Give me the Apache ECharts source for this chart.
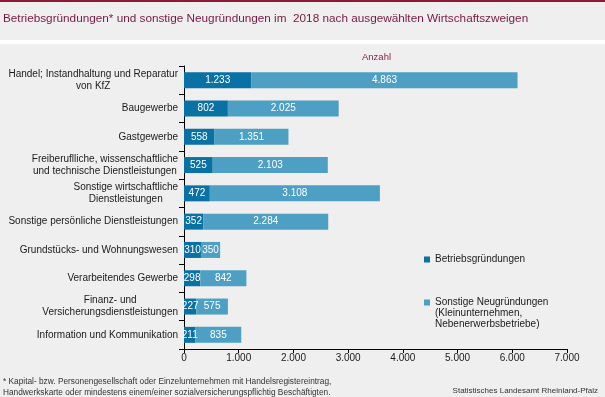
<!DOCTYPE html>
<html><head><meta charset="utf-8">
<script src="https://cdn.jsdelivr.net/npm/echarts@6/dist/echarts.min.js"></script>
<style>html,body{margin:0;padding:0;background:#eeefee}#c{width:605px;height:397px}</style>
</head><body><div id="c"></div>
<script>
const categories = [
  'Handel; Instandhaltung und Reparatur\nvon KfZ',
  'Baugewerbe',
  'Gastgewerbe',
  'Freiberuflliche, wissenschaftliche\nund technische Dienstleistungen',
  'Sonstige wirtschaftliche\nDienstleistungen',
  'Sonstige persönliche Dienstleistungen',
  'Grundstücks- und Wohnungswesen',
  'Verarbeitendes Gewerbe',
  'Finanz- und\nVersicherungsdienstleistungen',
  'Information und Kommunikation'
];
const betriebsgruendungen = [1233, 802, 558, 525, 472, 352, 310, 298, 227, 211];
const sonstigeNeugruendungen = [4863, 2025, 1351, 2103, 3108, 2284, 350, 842, 575, 835];
const xTicks = [0, 1000, 2000, 3000, 4000, 5000, 6000, 7000];
const seriesNames = ['Betriebsgründungen', 'Sonstige Neugründungen (Kleinunternehmen, Nebenerwerbsbetriebe)'];
const legendLabels = ['Betriebsgründungen', 'Sonstige Neugründungen\n(Kleinunternehmen,\nNebenerwerbsbetriebe)'];

const FONT = '"Liberation Sans", Arial, sans-serif';
const fmt = v => String(v).replace(/\B(?=(\d{3})+(?!\d))/g, '.');

const chart = echarts.init(document.getElementById('c'), null, {renderer: 'canvas'});
chart.setOption({
  backgroundColor: '#eeefee',
  animation: false,
  textStyle: {fontFamily: FONT},
  graphic: [
    {type: 'rect', left: 0, top: 0, shape: {width: 605, height: 2}, style: {fill: '#8a1a35'}, silent: true},
    {type: 'rect', left: 0, top: 40, shape: {width: 605, height: 4}, style: {fill: '#ffffff'}, silent: true}
  ],
  title: [
    {text: 'Betriebsgründungen* und sonstige Neugründungen im  2018 nach ausgewählten Wirtschaftszweigen',
     left: 3, top: 13, padding: 0,
     textStyle: {color: '#7b1742', fontSize: 11.75, fontWeight: 'normal', fontFamily: FONT}},
    {text: 'Anzahl', left: 362, top: 52, padding: 0,
     textStyle: {color: '#8b2244', fontSize: 9.5, fontWeight: 'normal', fontFamily: FONT}},
    {text: '* Kapital- bzw. Personengesellschaft oder Einzelunternehmen mit Handelsregistereintrag,\nHandwerkskarte oder mindestens einem/einer sozialversicherungspflichtig Beschäftigten.',
     left: 3, top: 376, padding: 0,
     textStyle: {color: '#333333', fontSize: 8.3, lineHeight: 11, fontWeight: 'normal', fontFamily: FONT}},
    {text: 'Statistisches Landesamt Rheinland-Pfalz', right: 7, top: 387, padding: 0,
     textStyle: {color: '#333333', fontSize: 8, fontWeight: 'normal', fontFamily: FONT}}
  ],
  legend: {
    orient: 'vertical', left: 424, top: 254, itemWidth: 6, itemHeight: 6, itemGap: 10,
    icon: 'rect', padding: 0,
    textStyle: {color: '#1a1a1a', fontSize: 10, lineHeight: 11, fontFamily: FONT},
    formatter: name => {
      const i = seriesNames.indexOf(name);
      const lines = legendLabels[i].split('\n');
      // pad empty lines on top so the marker sits beside the first line
      return '\n'.repeat(lines.length - 1) + lines.join('\n');
    },
    data: seriesNames
  },
  grid: {left: 184, right: 38, top: 66, bottom: 48, containLabel: false},
  xAxis: {
    type: 'value', min: xTicks[0], max: xTicks[xTicks.length - 1], interval: 1000,
    axisLine: {show: true, lineStyle: {color: '#000', width: 1}},
    axisTick: {show: true, length: 4, lineStyle: {color: '#000'}},
    splitLine: {show: false},
    axisLabel: {color: '#1a1a1a', fontSize: 10, margin: 4, formatter: v => fmt(v), fontFamily: FONT}
  },
  yAxis: {
    type: 'category', data: categories, inverse: true,
    axisLine: {show: true, lineStyle: {color: '#000', width: 1}},
    axisTick: {show: true, length: 5, lineStyle: {color: '#000'}},
    axisLabel: {
      color: '#1a1a1a', fontSize: 10, margin: 6, fontFamily: FONT,
      formatter: v => v.split('\n').map(s => '{c|' + s + '}').join('\n'),
      rich: {c: {align: 'center', fontSize: 10, lineHeight: 12, color: '#1a1a1a', fontFamily: FONT}}
    }
  },
  series: [
    {name: seriesNames[0], type: 'bar', stack: 'a', data: betriebsgruendungen, barWidth: 16,
     itemStyle: {color: '#0a71a4'},
     label: {show: true, position: 'inside', color: '#fff', fontSize: 10, fontFamily: FONT, formatter: p => fmt(p.value)}},
    {name: seriesNames[1], type: 'bar', stack: 'a', data: sonstigeNeugruendungen, barWidth: 16,
     itemStyle: {color: '#4d9fc3'},
     label: {show: true, position: 'inside', color: '#fff', fontSize: 10, fontFamily: FONT, formatter: p => fmt(p.value)}}
  ]
});
</script></body></html>
